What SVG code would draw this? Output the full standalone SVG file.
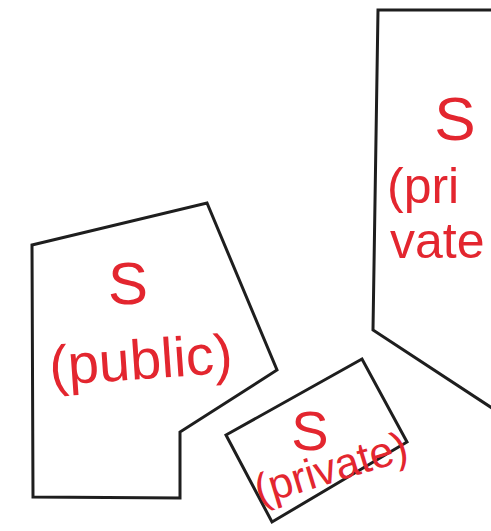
<svg xmlns="http://www.w3.org/2000/svg" width="491" height="531" viewBox="0 0 491 531">
<style>
.shape{fill:none;stroke:#1e1e1e;stroke-width:3;stroke-linejoin:miter;stroke-linecap:round}
.lbl{fill:#e3262f;font-family:"Liberation Sans","DejaVu Sans",sans-serif;text-anchor:middle}
</style>
<rect width="491" height="531" fill="#ffffff"/>
<g id="public-room">
<polygon class="shape" points="32,245 207,203 277,370 180,432 180,498 33,497"/>
<text class="lbl" x="128" y="304" font-size="60">S</text>
<text class="lbl" x="142" y="379" font-size="56" transform="rotate(-4 142 379)">(public)</text>
</g>
<g id="private-room-right">
<polyline class="shape" points="495,10 378,10 373,330 495,410"/>
<text class="lbl" x="455" y="140" font-size="62">S</text>
<text class="lbl" x="387" y="203" font-size="50" style="text-anchor:start">(pri</text>
<text class="lbl" x="390" y="258" font-size="50" style="text-anchor:start">vate</text>
</g>
<g id="private-room-small">
<polygon class="shape" points="226,435 362,359 407,442 272,522"/>
<text class="lbl" x="310" y="450" font-size="56">S</text>
<text class="lbl" x="335" y="482" font-size="43" transform="rotate(-17 335 482)">(private)</text>
</g>
<g id="connectors"></g>
</svg>
